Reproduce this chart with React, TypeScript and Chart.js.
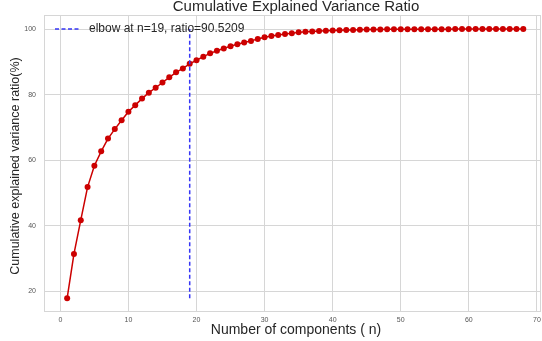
import React, { useEffect, useRef } from "react";
import { Chart, registerables } from "chart.js";

Chart.register(...registerables);

const components = [
  1, 2, 3, 4, 5, 6, 7, 8, 9, 10, 11, 12, 13, 14, 15, 16, 17, 18, 19, 20,
  21, 22, 23, 24, 25, 26, 27, 28, 29, 30, 31, 32, 33, 34, 35, 36, 37, 38, 39, 40,
  41, 42, 43, 44, 45, 46, 47, 48, 49, 50, 51, 52, 53, 54, 55, 56, 57, 58, 59, 60,
  61, 62, 63, 64, 65, 66, 67, 68,
];

const cumulativeRatio = [
  17.9, 31.4, 41.7, 51.8, 58.3, 62.7, 66.6, 69.5, 72.2, 74.8,
  76.8, 78.8, 80.6, 82.1, 83.7, 85.3, 86.8, 88.0, 89.4, 90.5,
  91.6, 92.6, 93.4, 94.1, 94.8, 95.4, 95.9, 96.4, 97.0, 97.5,
  97.9, 98.2, 98.5, 98.7, 99.0, 99.2, 99.3, 99.4, 99.5, 99.6,
  99.65, 99.7, 99.75, 99.8, 99.85, 99.88, 99.9, 99.92, 99.94, 99.95,
  99.96, 99.97, 99.98, 99.98, 99.99, 99.99, 99.99, 100.0, 100.0, 100.0,
  100.0, 100.0, 100.0, 100.0, 100.0, 100.0, 100.0, 100.0,
];

const xTicks = [0, 10, 20, 30, 40, 50, 60, 70];
const yTicks = [20, 40, 60, 80, 100];

const elbowN = 19;
const elbowTop = 100;
const elbowLabel = "elbow at n=19, ratio=90.5209";

const titleText = "Cumulative Explained Variance Ratio";
const xTitle = "Number of components ( n)";
const yTitle = "Cumulative explained variance ratio(%)";

const FONT = "'Liberation Sans', Arial, sans-serif";
const RED = "#cc0000";
const BLUE = "#3535f5";
const GRID = "#d6d6d6";

const decor = {
  id: "decor",
  beforeDatasetsDraw(chart: any) {
    const { ctx, chartArea } = chart;
    ctx.save();
    ctx.strokeStyle = GRID;
    ctx.lineWidth = 1;
    ctx.strokeRect(
      Math.round(chartArea.left) + 0.5,
      Math.round(chartArea.top) + 0.5,
      Math.round(chartArea.right - chartArea.left) - 1,
      Math.round(chartArea.bottom - chartArea.top)
    );
    ctx.restore();
  },
  afterDraw(chart: any) {
    const { ctx, chartArea } = chart;
    ctx.save();
    ctx.fillStyle = "#262626";
    ctx.textAlign = "center";
    ctx.textBaseline = "middle";
    ctx.font = `15px ${FONT}`;
    ctx.fillText(titleText, 296, 7);
    ctx.font = `14px ${FONT}`;
    ctx.fillText(xTitle, 296, 330);
    ctx.translate(16, 166);
    ctx.rotate(-Math.PI / 2);
    ctx.font = `12.5px ${FONT}`;
    ctx.fillText(yTitle, 0, 0);
    ctx.restore();

    // legend
    ctx.save();
    const ly = chartArea.top + 14;
    const lx = chartArea.left + 11;
    ctx.strokeStyle = BLUE;
    ctx.lineWidth = 1.5;
    ctx.setLineDash([4, 2.5]);
    ctx.beginPath();
    ctx.moveTo(lx, ly);
    ctx.lineTo(lx + 24, ly);
    ctx.stroke();
    ctx.setLineDash([]);
    ctx.fillStyle = "#262626";
    ctx.font = `12px ${FONT}`;
    ctx.textAlign = "left";
    ctx.textBaseline = "middle";
    ctx.fillText(elbowLabel, lx + 34, ly);
    ctx.restore();
  },
};

export default function App() {
  const ref = useRef<HTMLCanvasElement | null>(null);
  useEffect(() => {
    if (!ref.current) return;
    const chart = new Chart(ref.current, {
      type: "line",
      data: {
        datasets: [
          {
            label: elbowLabel,
            data: [
              { x: elbowN, y: cumulativeRatio[0] },
              { x: elbowN, y: elbowTop },
            ],
            borderColor: BLUE,
            borderWidth: 1.5,
            borderDash: [4, 2.5],
            pointRadius: 0,
            order: 0,
          },
          {
            label: "cumulative",
            data: components.map((n, i) => ({ x: n, y: cumulativeRatio[i] })),
            borderColor: RED,
            backgroundColor: RED,
            borderWidth: 1.5,
            pointRadius: 3,
            pointBorderWidth: 0,
            pointBackgroundColor: RED,
            order: 1,
          },
        ],
      },
      options: {
        animation: false,
        responsive: false,
        events: [],
        layout: { autoPadding: false, padding: { top: 15, right: 1, left: 0, bottom: 0 } },
        plugins: {
          legend: { display: false },
          title: { display: false },
          tooltip: { enabled: false },
        },
        scales: {
          x: {
            type: "linear",
            min: -2.4,
            max: 70.6,
            afterBuildTicks: (axis: any) => {
              axis.ticks = xTicks.map((v) => ({ value: v }));
            },
            afterFit: (axis: any) => {
              axis.height = 30;
              axis.paddingLeft = 0;
              axis.paddingRight = 0;
            },
            grid: { color: GRID, drawTicks: false, lineWidth: 1 },
            border: { display: false },
            ticks: {
              padding: 5,
              color: "#555555",
              font: { size: 7, family: FONT },
              maxRotation: 0,
              autoSkip: false,
            },
          },
          y: {
            type: "linear",
            min: 14.0,
            max: 104.3,
            afterBuildTicks: (axis: any) => {
              axis.ticks = yTicks.map((v) => ({ value: v }));
            },
            afterFit: (axis: any) => {
              axis.width = 44;
              axis.paddingTop = 0;
              axis.paddingBottom = 0;
            },
            grid: { color: GRID, drawTicks: false, lineWidth: 1 },
            border: { display: false },
            ticks: {
              padding: 8,
              color: "#555555",
              font: { size: 7, family: FONT },
              autoSkip: false,
            },
          },
        },
      },
      plugins: [decor],
    });
    return () => chart.destroy();
  }, []);
  return (
    <div style={{ position: "absolute", left: 0, top: 0, width: 542, height: 341, background: "#fff" }}>
      <canvas ref={ref} width={542} height={341} style={{ display: "block" }} />
    </div>
  );
}
